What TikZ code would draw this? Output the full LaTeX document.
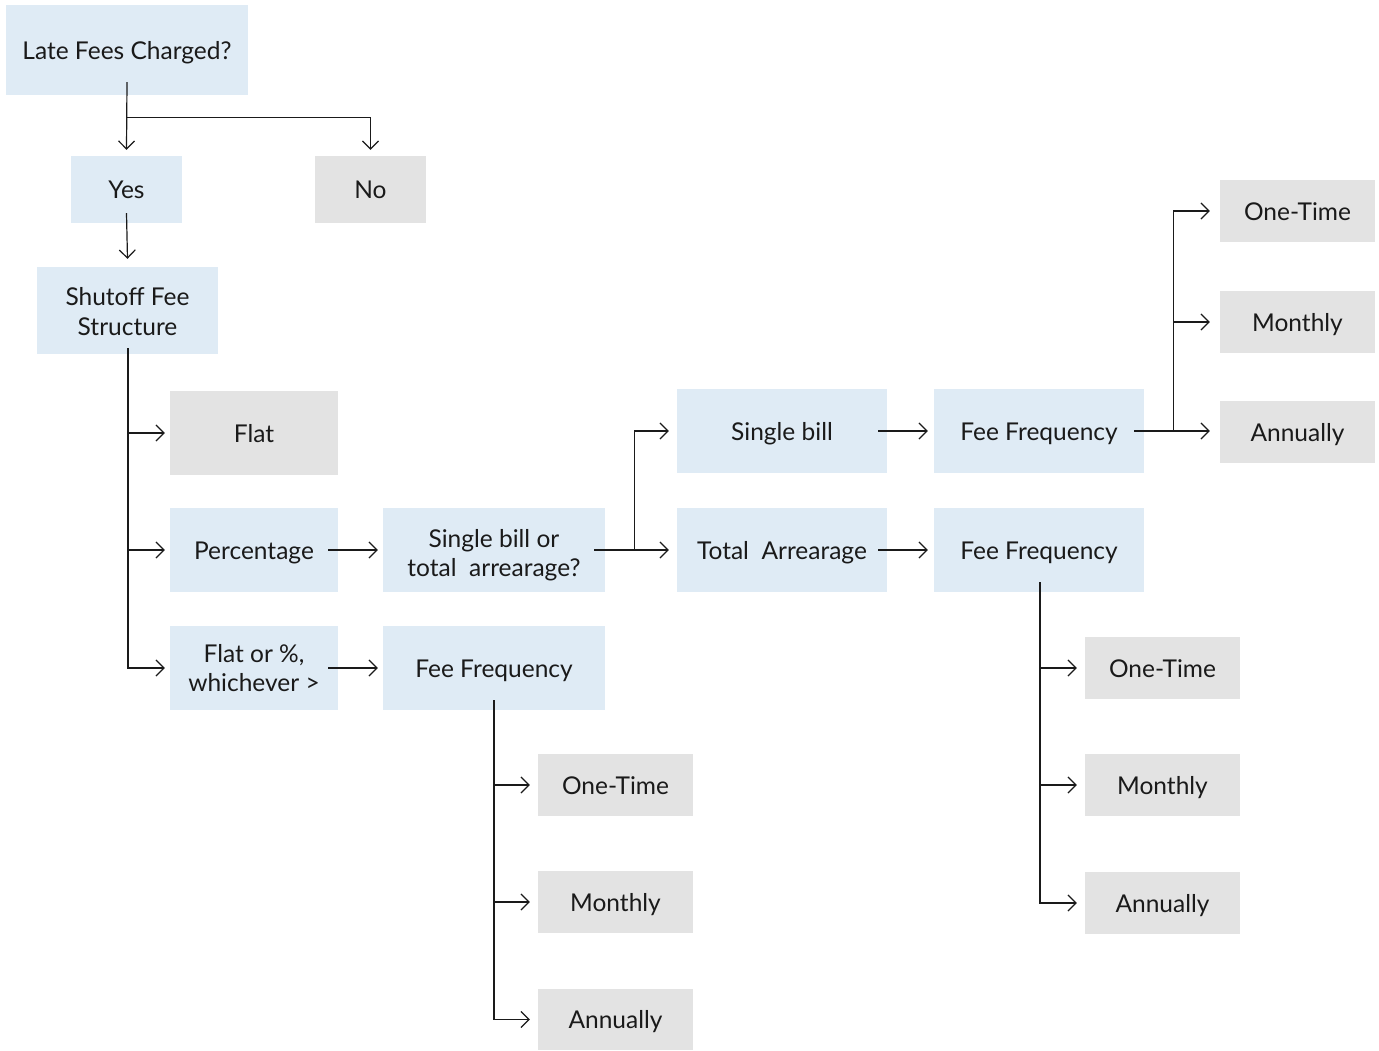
\documentclass[tikz,border=0pt]{standalone}
\usepackage{fontspec}
\setmainfont{Lato}
\usetikzlibrary{arrows.meta,calc}
\definecolor{boxblue}{HTML}{DFEBF5}
\definecolor{boxgray}{HTML}{E3E3E3}
\definecolor{ink}{HTML}{1A1A1A}
\newcommand\mystrut{\rule[-5pt]{0pt}{28pt}}
\begin{document}
\begin{tikzpicture}[x=1pt,y=-1pt,
  base/.style={inner sep=0pt, align=center, text=ink, font=\fontsize{24.5}{29.5}\selectfont},
  bbox/.style={base, fill=boxblue, minimum width=#1},
  gbox/.style={base, fill=boxgray, minimum width=#1},
  arr/.style={draw=ink, line width=1.2pt, -{Straight Barb[length=8pt,width=16pt,line width=1.2pt]}}
]
\path[use as bounding box] (0,0) rectangle (1379,1050);
% nodes
\node[bbox=242pt, minimum height=90pt] (late) at (127,50) {\mystrut Late Fees Charged?};
\node[bbox=111pt, minimum height=67pt] (yes) at (126.5,189.5) {\mystrut Yes};
\node[gbox=111pt, minimum height=67pt] (no) at (370.5,189.5) {\mystrut No};
\node[bbox=181pt, minimum height=87pt] (shut) at (127.5,310.5) {\rule{0pt}{20pt}Shutoff Fee\\Structure};
\node[gbox=168pt, minimum height=84pt] (flat) at (254,433) {\mystrut Flat};
\node[bbox=168pt, minimum height=84pt] (pct) at (254,550) {\mystrut Percentage};
\node[bbox=168pt, minimum height=84pt] (fo) at (254,668) {Flat or \%,\\whichever \textgreater};
\node[bbox=222pt, minimum height=84pt] (sbq) at (494,550) {\rule{0pt}{28pt}Single bill or\\total\ \ arrearage?};
\node[bbox=222pt, minimum height=84pt] (ffl) at (494,668) {\mystrut Fee Frequency};
\node[bbox=210pt, minimum height=84pt] (sb) at (782,431) {\mystrut Single bill};
\node[bbox=210pt, minimum height=84pt] (tot) at (782,550) {\mystrut Total\ \ Arrearage};
\node[bbox=210pt, minimum height=84pt] (ff1) at (1039,431) {\mystrut Fee Frequency};
\node[bbox=210pt, minimum height=84pt] (ff2) at (1039,550) {\mystrut Fee Frequency};
\node[gbox=155pt, minimum height=62pt] (ot1) at (1297.5,211) {\mystrut One-Time};
\node[gbox=155pt, minimum height=62pt] (mo1) at (1297.5,322) {\mystrut Monthly};
\node[gbox=155pt, minimum height=62pt] (an1) at (1297.5,432) {\mystrut Annually};
\node[gbox=155pt, minimum height=62pt] (ot2) at (1162.5,668) {\mystrut One-Time};
\node[gbox=155pt, minimum height=62pt] (mo2) at (1162.5,785) {\mystrut Monthly};
\node[gbox=155pt, minimum height=62pt] (an2) at (1162.5,903) {\mystrut Annually};
\node[gbox=155pt, minimum height=62pt] (ot3) at (615.5,785) {\mystrut One-Time};
\node[gbox=155pt, minimum height=62pt] (mo3) at (615.5,902) {\mystrut Monthly};
\node[gbox=155pt, minimum height=61pt] (an3) at (615.5,1019.5) {\mystrut Annually};
% connectors
\draw[arr] ($(late.south)+(0,-13)$) -- ($(yes.north)+(0,-6)$);
\draw[arr] ($(late.south)+(0,22)$) -| ($(no.north)+(0,-6)$);
\draw[arr] ($(yes.south)+(0,-10)$) -- ($(shut.north)+(0,-8)$);
\draw[arr] ($(shut.south)+(0.5,-6)$) |- ($(flat.west)+(-5,0)$);
\draw[arr] ($(shut.south)+(0.5,-6)$) |- ($(pct.west)+(-5,0)$);
\draw[arr] ($(shut.south)+(0.5,-6)$) |- ($(fo.west)+(-5,0)$);
\draw[arr] ($(pct.east)+(-10,0)$) -- ($(sbq.west)+(-5,0)$);
\draw[arr] ($(fo.east)+(-10,0)$) -- ($(ffl.west)+(-5,0)$);
\coordinate (j1) at ($(sbq.east)+(29,0)$);
\draw[arr] ($(sbq.east)+(-11,0)$) -- ($(tot.west)+(-8,0)$);
\draw[arr] (j1) |- ($(sb.west)+(-8,0)$);
\draw[arr] ($(sb.east)+(-9,0)$) -- ($(ff1.west)+(-6,0)$);
\draw[arr] ($(tot.east)+(-9,0)$) -- ($(ff2.west)+(-6,0)$);
\coordinate (j2) at ($(ff1.east)+(29,0)$);
\draw[arr] ($(ff1.east)+(-10,0)$) -- ($(an1.west)+(-10,-1)$);
\draw[arr] (j2) |- ($(ot1.west)+(-10,0)$);
\draw[arr] (j2) |- ($(mo1.west)+(-10,0)$);
\draw[arr] ($(ff2.south)+(1,-10)$) |- ($(ot2.west)+(-8,0)$);
\draw[arr] ($(ff2.south)+(1,-10)$) |- ($(mo2.west)+(-8,0)$);
\draw[arr] ($(ff2.south)+(1,-10)$) |- ($(an2.west)+(-8,0)$);
\draw[arr] ($(ffl.south)+(0,-10)$) |- ($(ot3.west)+(-8,0)$);
\draw[arr] ($(ffl.south)+(0,-10)$) |- ($(mo3.west)+(-8,0)$);
\draw[arr] ($(ffl.south)+(0,-10)$) |- ($(an3.west)+(-8,0)$);
\end{tikzpicture}
\end{document}
